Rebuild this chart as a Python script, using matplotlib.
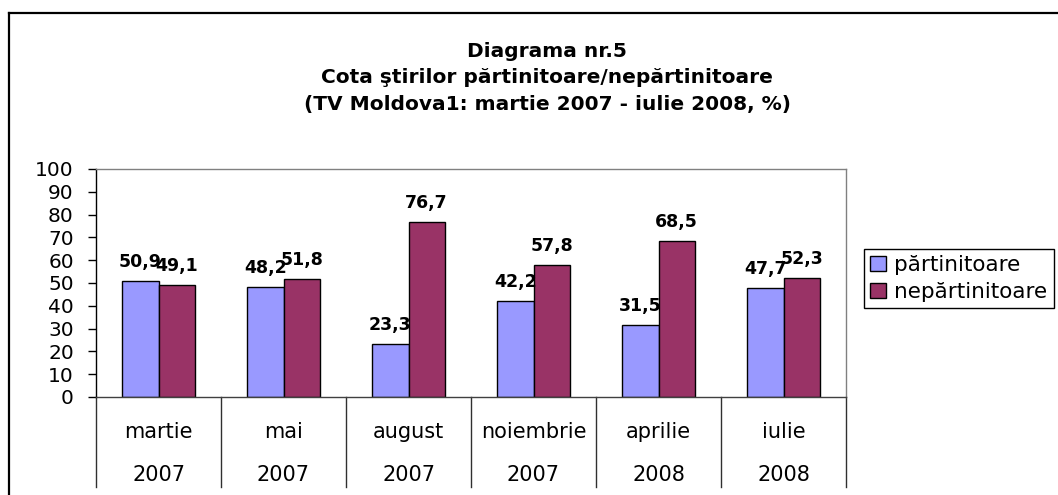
import matplotlib
matplotlib.use("Agg")
import matplotlib.pyplot as plt
from matplotlib.lines import Line2D
import numpy as np

months = ["martie", "mai", "august", "noiembrie", "aprilie", "iulie"]
years = ["2007", "2007", "2007", "2007", "2008", "2008"]
partinitoare = [50.9, 48.2, 23.3, 42.2, 31.5, 47.7]
nepartinitoare = [49.1, 51.8, 76.7, 57.8, 68.5, 52.3]
series_names = ["părtinitoare", "nepărtinitoare"]
title_lines = [
    "Diagrama nr.5",
    "Cota ştirilor părtinitoare/nepărtinitoare",
    "(TV Moldova1: martie 2007 - iulie 2008, %)",
]

plt.rcParams["font.family"] = "DejaVu Sans"

W, H = 1058, 495
fig = plt.figure(figsize=(W / 100, H / 100), dpi=100)

# outer frame (top and left edges visible, the rest runs off the page)
fig.add_artist(Line2D([9 / W, 9 / W], [-0.05, 1 - 13 / H], color="black", lw=1.6))
fig.add_artist(Line2D([9 / W, 1.05], [1 - 13 / H, 1 - 13 / H], color="black", lw=1.6))

left, right, top, bottom = 96, 846, 169, 397
ax = fig.add_axes([left / W, 1 - bottom / H, (right - left) / W, (bottom - top) / H])

x = np.arange(len(months)) + 0.5
bw = 0.29
b1 = ax.bar(x - bw / 2, partinitoare, bw, color="#9999FF", edgecolor="black", lw=1, label=series_names[0])
b2 = ax.bar(x + bw / 2, nepartinitoare, bw, color="#993366", edgecolor="black", lw=1, label=series_names[1])

for bars, vals in ((b1, partinitoare), (b2, nepartinitoare)):
    for rect, v in zip(bars, vals):
        ax.annotate(f"{v:.1f}".replace(".", ","),
                    (rect.get_x() + rect.get_width() / 2, v),
                    xytext=(0, 10), textcoords="offset points",
                    ha="center", va="baseline", fontsize=12.5, fontweight="bold")

ax.set_xlim(0, len(months))
ax.set_ylim(0, 100)
ax.set_yticks(range(0, 101, 10))
ax.tick_params(axis="y", direction="out", length=6, width=1, pad=10, labelsize=14.5)
ax.set_xticks([])

ax.spines["left"].set_color("black")
ax.spines["bottom"].set_color("#404040")
for s in ("top", "right"):
    ax.spines[s].set_color("#808080")
for s in ax.spines.values():
    s.set_linewidth(1)

# category table below the axis
tr = ax.get_xaxis_transform()
depth = -(487 - bottom) / (bottom - top)
for i in range(len(months) + 1):
    ax.plot([i, i], [0, depth], transform=tr, color="#303030", lw=1, clip_on=False)
for xi, m, y in zip(x, months, years):
    ax.text(xi, -(432 - bottom) / (bottom - top), m, transform=tr,
            ha="center", va="center", fontsize=15)
    ax.text(xi, -(475 - bottom) / (bottom - top), y, transform=tr,
            ha="center", va="center", fontsize=15)

for line, base in zip(title_lines, (57, 83, 110)):
    fig.text(547 / W, 1 - base / H, line, ha="center", va="baseline",
             fontsize=14.5, fontweight="bold")

fig.legend(handles=[b1, b2], loc="upper left",
           bbox_to_anchor=(864 / W, 1 - 249 / H), fontsize=15.5,
           frameon=True, fancybox=False, edgecolor="black", framealpha=1,
           handlelength=0.7, handleheight=0.7, handletextpad=0.4,
           borderpad=0.3, labelspacing=0.3, borderaxespad=0)
fig.legends[0].get_frame().set_linewidth(1)

fig.savefig("out.png", dpi=100)
